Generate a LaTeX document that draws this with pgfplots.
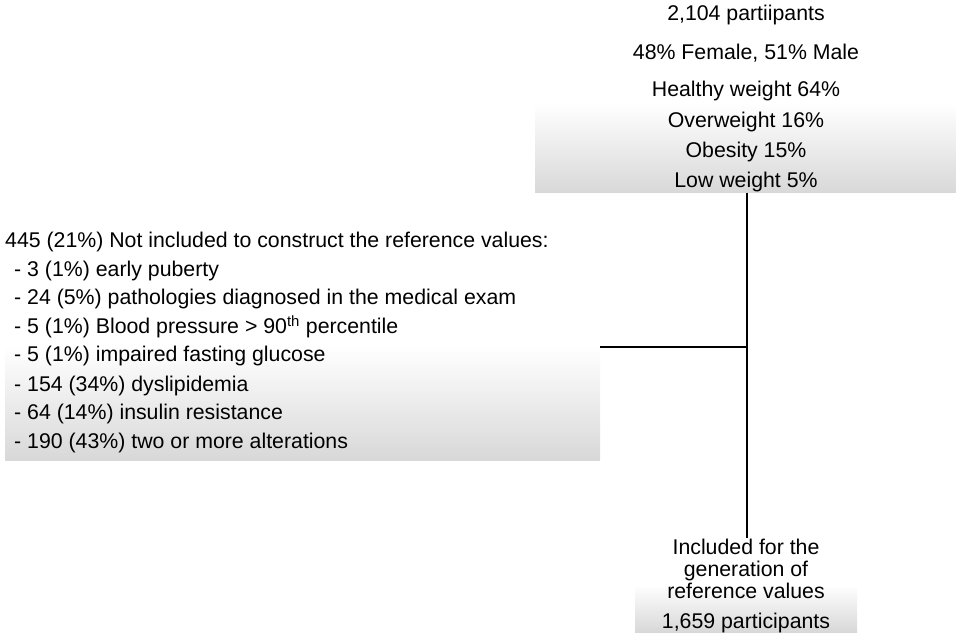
\documentclass[border=0pt]{standalone}
\usepackage{pgfplots}
\pgfplotsset{compat=1.18}
\usepackage{fontspec}
\setmainfont{Liberation Sans}
\definecolor{boxgray}{HTML}{D8D8D8}
\tikzset{t/.style={font=\fontsize{21.3}{25}\selectfont, inner sep=0pt}}
\begin{document}
\begin{tikzpicture}
\begin{axis}[
  width=956pt, height=636pt, scale only axis,
  xmin=0, xmax=956, ymin=0, ymax=636, y dir=reverse,
  hide axis, clip=false,
]
\path (axis cs:0,0) rectangle (axis cs:956,636);
% gradient boxes
\shade[top color=white, bottom color=boxgray] (axis cs:535,103) rectangle (axis cs:956,193);
\shade[top color=white, bottom color=boxgray] (axis cs:5,346) rectangle (axis cs:600,460);
\shade[top color=white!95!boxgray, bottom color=boxgray] (axis cs:635,587) rectangle (axis cs:857,632);
% connector lines
\addplot[black, line width=1.4pt] coordinates {(747,193) (747,538)};
\addplot[black, line width=1.4pt] coordinates {(600,347) (747,347)};
% top block
\node[t, anchor=base] at (axis cs:746,21) {2,104 partiipants};
\node[t, anchor=base] at (axis cs:746,60) {48\% Female, 51\% Male};
\node[t, anchor=base] at (axis cs:746,97) {Healthy weight 64\%};
\node[t, anchor=base] at (axis cs:746,128) {Overweight 16\%};
\node[t, anchor=base] at (axis cs:746,158) {Obesity 15\%};
\node[t, anchor=base] at (axis cs:746,188) {Low weight 5\%};
% left block
\node[t, anchor=base west] at (axis cs:5,248) {445 (21\%) Not included to construct the reference values:};
\node[t, anchor=base west] at (axis cs:14,277) {- 3 (1\%) early puberty};
\node[t, anchor=base west] at (axis cs:14,305) {- 24 (5\%) pathologies diagnosed in the medical exam};
\node[t, anchor=base west] at (axis cs:14,334) {- 5 (1\%) Blood pressure > 90\textsuperscript{th} percentile};
\node[t, anchor=base west] at (axis cs:14,362) {- 5 (1\%) impaired fasting glucose};
\node[t, anchor=base west] at (axis cs:14,391) {- 154 (34\%) dyslipidemia};
\node[t, anchor=base west] at (axis cs:14,419) {- 64 (14\%) insulin resistance};
\node[t, anchor=base west] at (axis cs:14,448) {- 190 (43\%) two or more alterations};
% bottom block
\node[t, anchor=base] at (axis cs:746,554) {Included for the};
\node[t, anchor=base] at (axis cs:746,576) {generation of};
\node[t, anchor=base] at (axis cs:746,598) {reference values};
\node[t, anchor=base] at (axis cs:746,628) {1,659 participants};
\end{axis}
\end{tikzpicture}
\end{document}
